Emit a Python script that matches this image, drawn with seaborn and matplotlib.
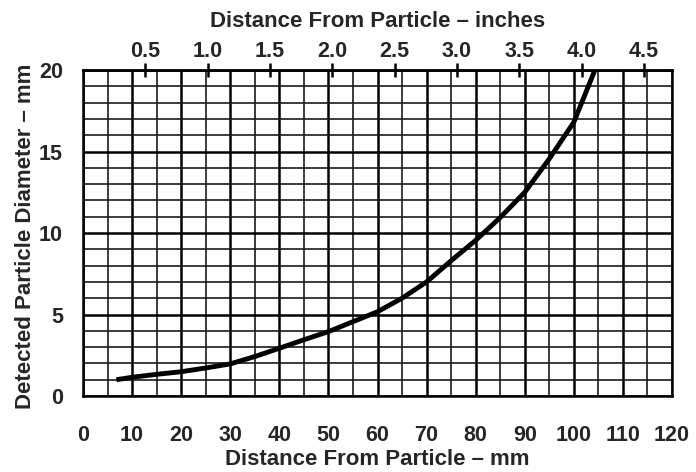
import matplotlib
matplotlib.use("Agg")
import matplotlib.pyplot as plt
import seaborn as sns
import pandas as pd

# values
distance_mm = [6.8, 10, 15, 20, 25, 30, 35, 40, 45, 50, 55, 60, 65, 70, 75,
               80, 85, 90, 95, 100, 104.3]
diameter_mm = [1.0, 1.15, 1.33, 1.49, 1.72, 1.97, 2.42, 2.93, 3.45, 3.95, 4.56,
               5.17, 6.0, 7.0, 8.3, 9.55, 10.95, 12.5, 14.55, 16.8, 20.0]

x_major = list(range(0, 121, 10))
x_minor = list(range(5, 120, 10))
y_major = [0, 5, 10, 15, 20]
y_minor = list(range(0, 21))
inch_ticks = [0.5, 1.0, 1.5, 2.0, 2.5, 3.0, 3.5, 4.0, 4.5]

sns.set_style("white")
plt.rcParams['font.family'] = ['Liberation Sans', 'DejaVu Sans']

df = pd.DataFrame({'mm': distance_mm, 'dia': diameter_mm})

fig = plt.figure(figsize=(6.96, 4.72), dpi=100)
ax = fig.add_axes([0.1193, 0.161, 0.8462, 0.6907])

sns.lineplot(data=df, x='mm', y='dia', ax=ax, color='black', linewidth=3.5,
             solid_capstyle='butt', solid_joinstyle='round')

ax.set_xlim(0, 120)
ax.set_ylim(0, 20)
ax.set_xticks(x_major)
ax.set_xticks(x_minor, minor=True)
ax.set_yticks(y_major)
ax.set_yticks(y_minor, minor=True)

ax.grid(which='major', color='black', linewidth=1.8)
ax.grid(which='minor', color='#1a1a1a', linewidth=1.2)
ax.set_axisbelow(True)

for s in ax.spines.values():
    s.set_color('black')
    s.set_linewidth(1.8)

ax.tick_params(axis='x', which='major', direction='out', length=11.5, width=1.8,
               pad=9.5, color='black')
ax.tick_params(axis='x', which='minor', direction='out', length=6, width=1.3,
               color='black')
ax.tick_params(axis='y', which='major', direction='out', length=8, width=1.8,
               pad=6.5, color='black')
ax.tick_params(axis='y', which='minor', direction='out', length=4, width=1.2,
               color='black')


def style_ticks(labels):
    for lab in labels:
        lab.set_fontweight('bold')
        lab.set_fontsize(15.5)


style_ticks(ax.get_xticklabels() + ax.get_yticklabels())

ax.set_xlabel('Distance From Particle – mm', fontsize=16, fontweight='bold')
ax.xaxis.set_label_coords(0.5, -0.163)
ax.set_ylabel('Detected Particle Diameter – mm', fontsize=16, fontweight='bold')
ax.yaxis.set_label_coords(-0.08, 0.49)

sec = ax.secondary_xaxis('top', functions=(lambda v: v / 25.4, lambda v: v * 25.4))
sec.set_xticks(inch_ticks)
sec.tick_params(direction='inout', length=10, width=1.8, pad=0.5, color='black')
sec.spines['top'].set_linewidth(1.8)
style_ticks(sec.get_xticklabels())
sec.set_xlabel('Distance From Particle – inches', fontsize=16, fontweight='bold',
               labelpad=10)

fig.savefig('out.png', dpi=100, facecolor='white')
